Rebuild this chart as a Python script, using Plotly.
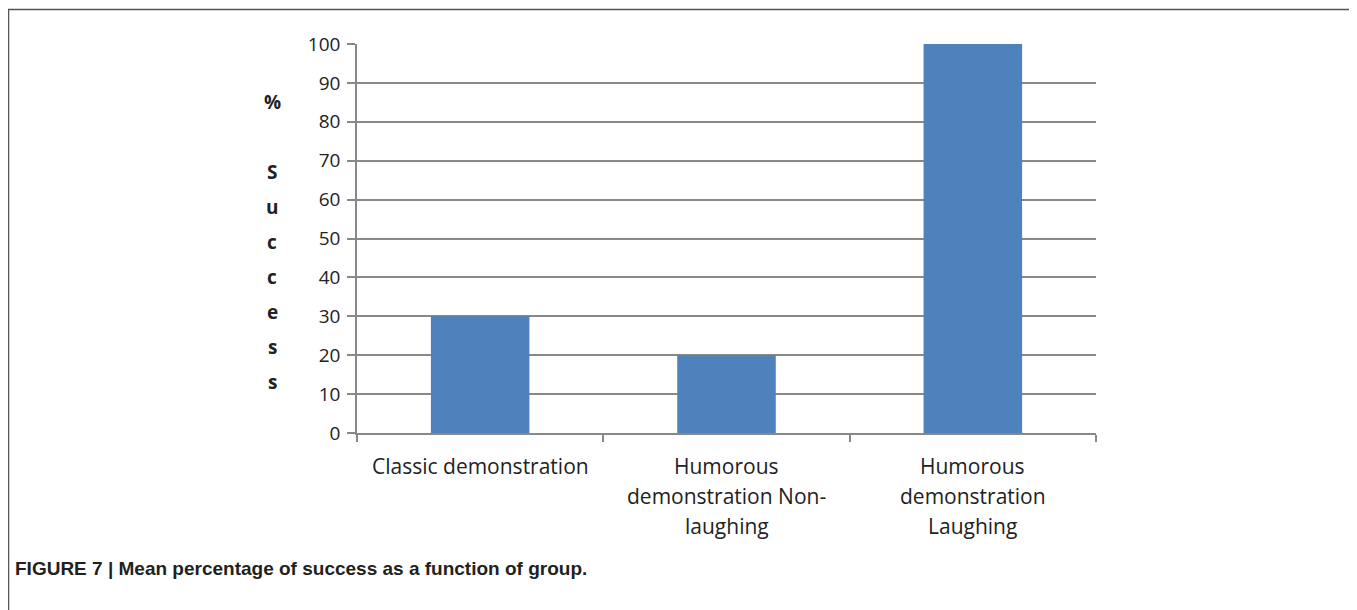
import plotly.graph_objects as go

categories = ["Classic demonstration",
              "Humorous demonstration Non-laughing",
              "Humorous demonstration Laughing"]
label_lines = [["Classic demonstration"],
               ["Humorous", "demonstration Non-", "laughing"],
               ["Humorous", "demonstration", "Laughing"]]
values = [30, 20, 100]
y_ticks = list(range(0, 101, 10))
y_title_letters = ["%", "", "S", "u", "c", "c", "e", "s", "s"]
caption = "FIGURE 7 | Mean percentage of success as a function of group."

OFF = 8  # page body margin
W, H = 1357 - OFF, 610 - OFF
L, R, T, B = 357 - OFF, 261, 44 - OFF, 177
PW, PH = W - L - R, H - T - B

def px(xs):
    return (xs - OFF - L) / PW

def py(ys):
    return (H - B - (ys - OFF)) / PH

fig = go.Figure(go.Bar(x=categories, y=values, width=0.4,
                       marker=dict(color="#4F81BD", line=dict(width=0))))

annotations = []
for cat, lines in zip(categories, label_lines):
    for i, ln in enumerate(lines):
        annotations.append(dict(x=cat, xref="x", y=py(466 + 30 * i), yref="paper",
                                text=ln, showarrow=False, xanchor="center", yanchor="middle",
                                font=dict(family="Open Sans", size=21, color="#222")))
for i, ch in enumerate(y_title_letters):
    if ch:
        annotations.append(dict(x=px(272), xref="paper", y=py(102 + 35 * i), yref="paper",
                                text=ch, showarrow=False, xanchor="center", yanchor="middle",
                                font=dict(family="Open Sans", size=19, color="#222", weight="bold")))
annotations.append(dict(x=px(13), xref="paper", y=py(568), yref="paper", text="<b>" + caption + "</b>",
                        showarrow=False, xanchor="left", yanchor="middle",
                        font=dict(family="Liberation Sans", size=19, color="#231f20")))

fig.update_layout(
    width=W, height=H,
    margin=dict(l=L, r=R, t=T, b=B),
    paper_bgcolor="white", plot_bgcolor="white",
    showlegend=False,
    annotations=annotations,
    shapes=[dict(type="rect", xref="paper", yref="paper",
                 x0=px(8.5), x1=px(1355.5), y0=py(640), y1=py(9.5),
                 line=dict(color="#555", width=1.5), fillcolor="rgba(0,0,0,0)", layer="below")],
    xaxis=dict(type="category", tickson="boundaries", ticks="outside", ticklen=7,
               tickcolor="#888", tickwidth=1.5, showticklabels=False, showgrid=False,
               showline=True, linecolor="#888", linewidth=1.5, zeroline=False),
    yaxis=dict(range=[0, 100], tickvals=y_ticks, ticks="outside", ticklen=8,
               tickcolor="#888", tickwidth=1.5, showgrid=True, gridcolor="#888", gridwidth=1.5,
               showline=True, linecolor="#888", linewidth=1.5, zeroline=False,
               tickfont=dict(family="Open Sans", size=19, color="#222"), ticklabelstandoff=3),
)

fig.write_html("out.html", post_script="document.body.style.overflow='hidden';")
